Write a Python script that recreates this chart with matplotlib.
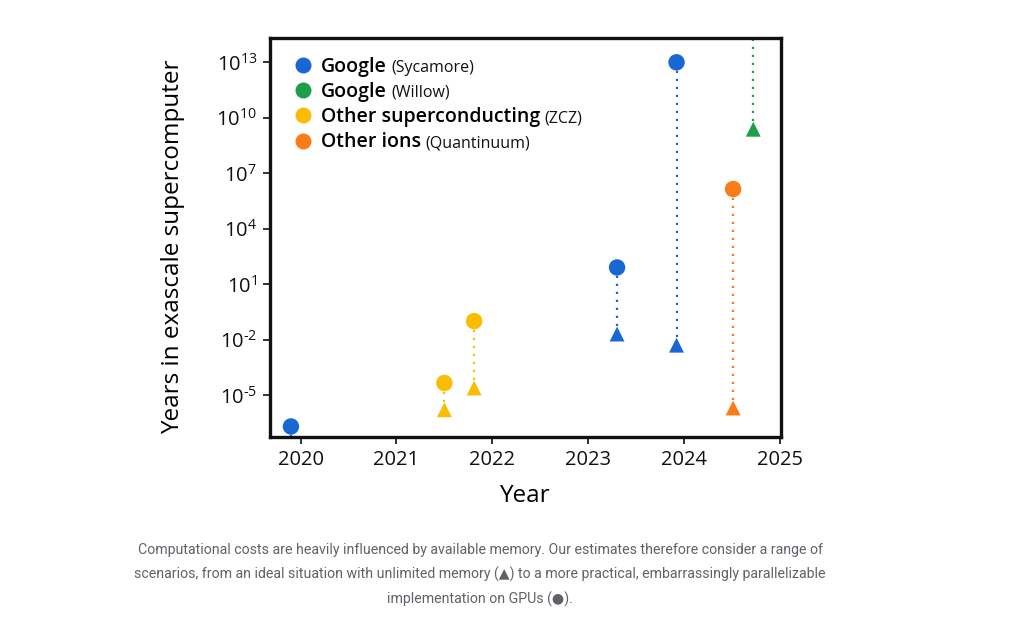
import numpy as np
import matplotlib.pyplot as plt
from matplotlib.lines import Line2D

plt.rcParams['font.family'] = ['Open Sans', 'DejaVu Sans']
plt.rcParams['mathtext.fontset'] = 'custom'
plt.rcParams['mathtext.rm'] = 'Open Sans'
plt.rcParams['mathtext.it'] = 'Open Sans:italic'
plt.rcParams['mathtext.bf'] = 'Open Sans:bold'

# 数据：每个系列的年份、GPU实现（圆点）、无限内存（三角）
names = ['Google', 'Google', 'Other superconducting', 'Other ions']
devices = ['Sycamore', 'Willow', 'ZCZ', 'Quantinuum']
colors = ['#1967d2', '#1e9e49', '#fbbc04', '#fa7b17']

sycamore_year = [2019.9, 2023.3, 2023.92]
sycamore_gpu = [2e-7, 80, 1e13]
sycamore_mem = [1e-9, 2e-2, 5e-3]

willow_year = [2024.72]
willow_gpu = [1e16]
willow_mem = [2.4e9]

zcz_year = [2021.5, 2021.81]
zcz_gpu = [4.5e-5, 0.1]
zcz_mem = [1.6e-6, 2.4e-5]

ions_year = [2024.51]
ions_gpu = [1.4e6]
ions_mem = [2e-6]

yticks = [1e-5, 1e-2, 1e1, 1e4, 1e7, 1e10, 1e13]
xticks = [2020, 2021, 2022, 2023, 2024, 2025]

caption = [
    "Computational costs are heavily influenced by available memory. Our estimates therefore consider a range of",
    "scenarios, from an ideal situation with unlimited memory (\u25B2) to a more practical, embarrassingly parallelizable",
    "implementation on GPUs (\u25CF).",
]


def exp_label(v):
    e = int(round(np.log10(v)))
    s = str(abs(e))
    if e < 0:
        s = r"\text{-}" + s
    return f"$10^{{{s}}}$"


fig = plt.figure(figsize=(10.26, 6.38), dpi=100)
ax = fig.add_axes([0.2627, 0.315, 0.4986, 0.625])

all_series = [
    (sycamore_year, sycamore_gpu, sycamore_mem),
    (willow_year, willow_gpu, willow_mem),
    (zcz_year, zcz_gpu, zcz_mem),
    (ions_year, ions_gpu, ions_mem),
]
for (yr, gpu, mem), c in zip(all_series, colors):
    ax.vlines(yr, mem, gpu, colors=c, linestyles=(0, (1, 2.6)), lw=1.6, zorder=1)
    ax.scatter(yr, gpu, marker='o', s=140, color=c, edgecolors='none', zorder=3)
    ax.scatter(yr, mem, marker='^', s=115, color=c, edgecolors='none', zorder=3)

ax.set_yscale('log')
ax.set_ylim(10 ** -7.27, 10 ** 14.3)
ax.set_xlim(2019.677, 2025.01)
ax.set_yticks(yticks)
ax.set_yticklabels([exp_label(v) for v in yticks])
ax.minorticks_off()
ax.set_xticks(xticks)
ax.set_xticklabels([str(x) for x in xticks])
ax.tick_params(labelsize=14.5, length=5, width=1.3, color='#222222', pad=4, labelcolor='#111111')

for sp in ax.spines.values():
    sp.set_linewidth(2.4)
    sp.set_color('#111111')

ax.set_xlabel('Year', fontsize=17.5, fontweight='medium')
ax.set_ylabel('Years in exascale supercomputer', fontsize=17.5, fontweight='medium')
ax.xaxis.set_label_coords(0.499, -0.117)
ax.yaxis.set_label_coords(-0.165, 0.476)

handles = [Line2D([], [], marker='o', ls='none', color=c, markersize=11.5, markeredgewidth=0) for c in colors]
leg = ax.legend(handles, names, loc='upper left', bbox_to_anchor=(0.02, 0.988),
                frameon=False, prop={'size': 14, 'weight': 'semibold'},
                handletextpad=0.4, labelspacing=0.27, handlelength=1.0, borderaxespad=0.3)

fig.canvas.draw()
W, H = fig.canvas.get_width_height()
for t, dev in zip(leg.get_texts(), devices):
    bb = t.get_window_extent()
    xb, yb = t.get_transform().transform(t.get_position())
    fig.text((bb.x1 + 5) / W, yb / H, f"({dev})", fontsize=11.5, va='baseline', ha='left', color='#111111')

for i, line in enumerate(caption):
    fig.text(0.468, 0.138 - i * 0.0385, line, ha='center', va='center', fontsize=10.2,
             color='#5f6368', family=['Roboto', 'DejaVu Sans'])

fig.savefig('out.png', dpi=100, facecolor='white')
